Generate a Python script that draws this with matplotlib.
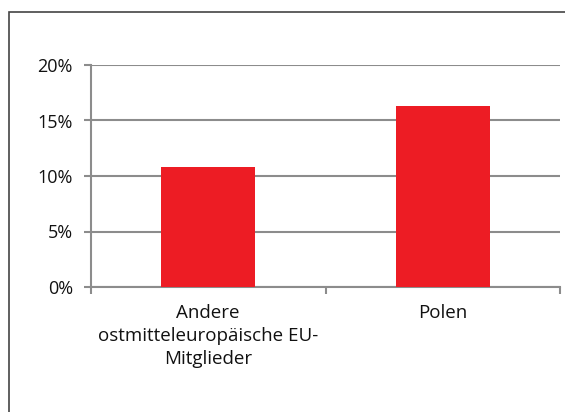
import matplotlib
matplotlib.use("Agg")
import matplotlib.pyplot as plt
from matplotlib.patches import Rectangle

categories = ["Andere\nostmitteleuropäische EU-\nMitglieder", "Polen"]
values = [10.8, 16.3]
yticks = [0, 5, 10, 15, 20]
ytick_labels = ["0%", "5%", "10%", "15%", "20%"]

W, H = 565, 412
fig = plt.figure(figsize=(W / 100, H / 100), dpi=100)
plt.rcParams['font.family'] = ['Open Sans', 'DejaVu Sans']

# outer frame
fig.patches.append(Rectangle((9 / W, -0.1), 1.2, (H - 12) / H + 0.1, transform=fig.transFigure,
                             fill=False, edgecolor="#444444", linewidth=1.2))

ax = fig.add_axes([91 / W, (H - 287) / H, (560 - 91) / W, (287 - 65) / H])
ax.set_xlim(0, 2)
ax.set_ylim(0, 20)
x = [0.5, 1.5]
ax.bar(x, values, width=0.4, color="#ED1C24", zorder=3)

ax.set_yticks(yticks)
ax.set_yticklabels(ytick_labels, fontsize=13, color="#111111")
ax.yaxis.grid(True, color="#8c8c8c", linewidth=1.5, zorder=0)
ax.set_xticks([0, 1, 2])
ax.set_xticklabels([])
ax.set_xticks(x, minor=True)
ax.set_xticklabels(categories, minor=True, fontsize=13.5, color="#111111", linespacing=1.38)
ax.tick_params(axis="x", which="minor", length=0, pad=12)
ax.tick_params(axis="x", which="major", length=5, width=1.5, color="#8c8c8c", direction="out")
ax.tick_params(axis="y", length=5, width=1.5, color="#8c8c8c", direction="out", pad=8)

for s in ["top", "right"]:
    ax.spines[s].set_visible(False)
for s in ["left", "bottom"]:
    ax.spines[s].set_color("#8c8c8c")
    ax.spines[s].set_linewidth(1.5)

fig.savefig("out.png", dpi=100)
